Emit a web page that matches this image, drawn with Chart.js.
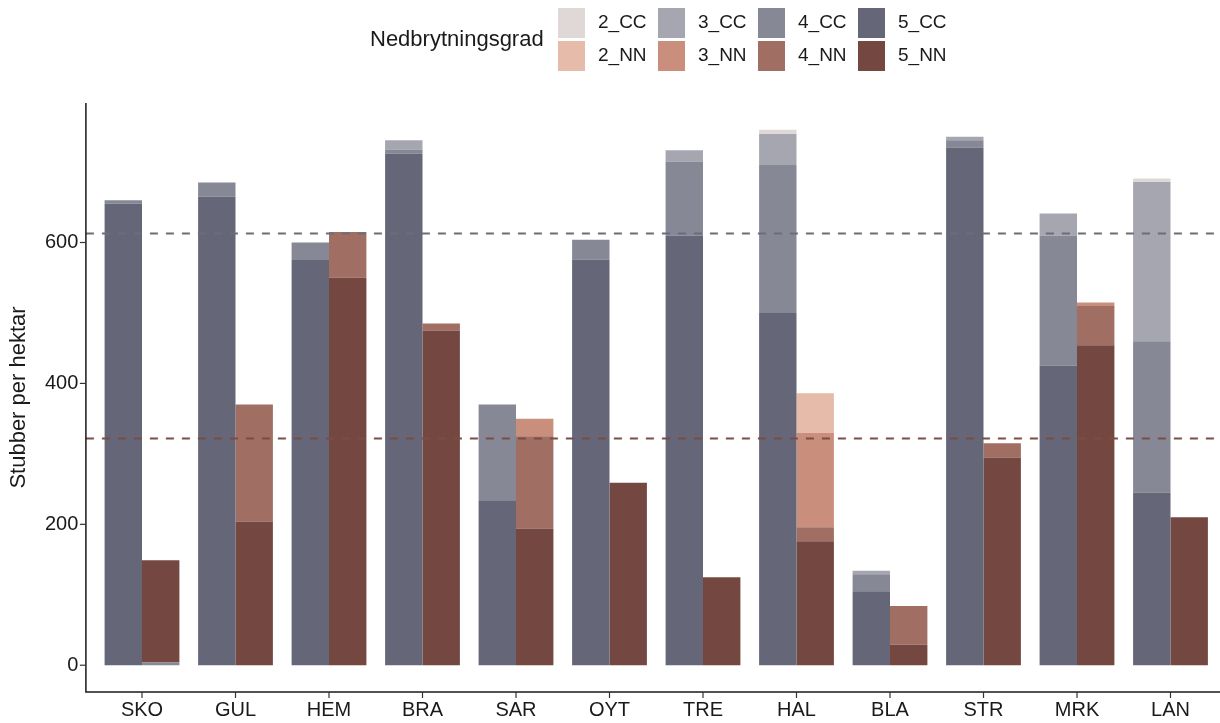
<!DOCTYPE html>
<html>
<head>
<meta charset="utf-8">
<script src="https://cdn.jsdelivr.net/npm/chart.js@4/dist/chart.umd.min.js"></script>
<style>
  html, body { margin: 0; padding: 0; background: #ffffff; overflow: hidden; }
  #wrap { width: 1220px; height: 723px; }
</style>
</head>
<body>
<div id="wrap"><canvas id="chart" width="1220" height="723"></canvas></div>
<script>
// Sites along the x axis
const categories = ['SKO', 'GUL', 'HEM', 'BRA', 'SAR', 'OYT', 'TRE', 'HAL', 'BLA', 'STR', 'MRK', 'LAN'];

// Stumps per hectare by decay class, CC stands
const cc5 = [655, 665, 575, 726, 234, 576, 610, 500, 105, 735, 425, 245];
const cc4 = [5, 20, 25, 6, 136, 28, 105, 210, 24, 10, 185, 215];
const cc3 = [0, 0, 0, 13, 0, 0, 16, 44, 5, 5, 31, 226];
const cc2 = [0, 0, 0, 0, 0, 0, 0, 6, 0, 0, 0, 5];

// Stumps per hectare by decay class, NN stands
const nn5 = [145, 204, 550, 475, 194, 259, 125, 176, 29, 295, 454, 210];
const nn4 = [0, 166, 65, 10, 131, 0, 0, 20, 55, 20, 56, 0];
const nn3 = [0, 0, 0, 0, 25, 0, 0, 134, 0, 0, 5, 0];
const nn2 = [0, 0, 0, 0, 0, 0, 0, 56, 0, 0, 0, 0];
// 4_CC records filed under the NN column at SKO
const cc4InNN = [4, 0, 0, 0, 0, 0, 0, 0, 0, 0, 0, 0];

// Mean stumps per hectare (CC, NN)
const meanLines = [614, 322];

// Y axis tick labels
const yTicks = [0, 200, 400, 600];

const legendTitle = 'Nedbrytningsgrad';
const legendLabels = ['2_CC', '3_CC', '4_CC', '5_CC', '2_NN', '3_NN', '4_NN', '5_NN'];

const colors = {
  '2_CC': '#e0d7d7', '3_CC': '#a6a6b0', '4_CC': '#868896', '5_CC': '#656779',
  '2_NN': '#e7bba9', '3_NN': '#c98f7c', '4_NN': '#a06e62', '5_NN': '#744840'
};
const meanColors = ['#6c6c7a', '#7c4c44'];

const FONT = '"Liberation Sans", Arial, Helvetica, sans-serif';
const TEXT = '#1a1a1a';

function ds(label, values, stack, colorKey) {
  return {
    label: label,
    data: values.map(v => (v > 0 ? v : null)),
    stack: stack,
    backgroundColor: colors[colorKey],
    borderWidth: 0,
    categoryPercentage: 0.8,
    barPercentage: 1.0
  };
}

const datasets = [
  ds('5_CC', cc5, 'CC', '5_CC'),
  ds('4_CC', cc4, 'CC', '4_CC'),
  ds('3_CC', cc3, 'CC', '3_CC'),
  ds('2_CC', cc2, 'CC', '2_CC'),
  ds('4_CC ', cc4InNN, 'NN', '4_CC'),
  ds('5_NN', nn5, 'NN', '5_NN'),
  ds('4_NN', nn4, 'NN', '4_NN'),
  ds('3_NN', nn3, 'NN', '3_NN'),
  ds('2_NN', nn2, 'NN', '2_NN')
];

// Horizontal dashed mean lines, drawn over the bars
const meanLinePlugin = {
  id: 'meanLines',
  afterDatasetsDraw(chart) {
    const ctx = chart.ctx;
    const y = chart.scales.y;
    const pitch = (chart.chartArea.right - chart.chartArea.left) / categories.length;
    const x0 = chart.chartArea.left - 0.1 * pitch;
    ctx.save();
    ctx.lineWidth = 2;
    ctx.setLineDash([8, 8]);
    meanLines.forEach((v, i) => {
      const py = Math.round(y.getPixelForValue(v)) + 0.5;
      ctx.strokeStyle = meanColors[i];
      ctx.beginPath();
      ctx.moveTo(x0, py);
      ctx.lineTo(chart.width, py);
      ctx.stroke();
    });
    ctx.restore();
  }
};

// Axis lines, tick marks and the two-row legend
const framePlugin = {
  id: 'frame',
  afterDraw(chart) {
    const ctx = chart.ctx;
    const area = chart.chartArea;
    const xs = chart.scales.x;
    const ys = chart.scales.y;
    const pitch = (area.right - area.left) / categories.length;
    const axisX = area.left - 0.1 * pitch;
    const axisY = area.bottom;
    ctx.save();
    ctx.strokeStyle = '#1a1a1a';
    ctx.lineWidth = 1.5;
    ctx.beginPath();
    ctx.moveTo(axisX, area.top);
    ctx.lineTo(axisX, axisY);
    ctx.lineTo(chart.width, axisY);
    ctx.stroke();
    ctx.strokeStyle = '#333333';
    ctx.lineWidth = 1.2;
    yTicks.forEach(v => {
      const py = ys.getPixelForValue(v);
      ctx.beginPath();
      ctx.moveTo(axisX - 6, py);
      ctx.lineTo(axisX, py);
      ctx.stroke();
    });
    categories.forEach((c, i) => {
      const px = xs.getPixelForValue(i);
      ctx.beginPath();
      ctx.moveTo(px, axisY);
      ctx.lineTo(px, axisY + 6);
      ctx.stroke();
    });

    // legend
    ctx.fillStyle = TEXT;
    ctx.textBaseline = 'middle';
    ctx.textAlign = 'left';
    ctx.font = '22px ' + FONT;
    ctx.fillText(legendTitle, 370, 40);
    ctx.font = '19px ' + FONT;
    const colX = [558, 658, 758, 858];
    const rowY = [8, 41];
    legendLabels.forEach((lab, i) => {
      const col = i % 4;
      const row = Math.floor(i / 4);
      ctx.fillStyle = colors[lab];
      ctx.fillRect(colX[col], rowY[row], 27, 30);
      ctx.fillStyle = TEXT;
      ctx.fillText(lab, colX[col] + 40, rowY[row] + 15);
    });
    ctx.restore();
  }
};

new Chart(document.getElementById('chart'), {
  type: 'bar',
  data: { labels: categories, datasets: datasets },
  options: {
    responsive: false,
    devicePixelRatio: 1,
    animation: false,
    layout: { padding: { top: 103, right: 2.75, left: 0, bottom: 0 } },
    plugins: {
      legend: { display: false },
      tooltip: { enabled: false }
    },
    scales: {
      x: {
        type: 'category',
        offset: true,
        stacked: true,
        grid: { display: false, drawTicks: false },
        border: { display: false },
        ticks: { font: { size: 20, family: FONT }, color: TEXT, padding: 6, maxRotation: 0, autoSkip: false },
        afterFit: s => { s.height = 31; }
      },
      y: {
        stacked: true,
        min: -38,
        max: 798,
        grid: { display: false, drawTicks: false },
        border: { display: false },
        afterBuildTicks: s => { s.ticks = yTicks.map(v => ({ value: v })); },
        ticks: { font: { size: 20, family: FONT }, color: TEXT, padding: 17 },
        title: {
          display: true,
          text: 'Stubber per hektar',
          font: { size: 22, family: FONT },
          color: TEXT,
          padding: { top: 6, bottom: 0 }
        },
        afterFit: s => { s.width = 95.25; }
      }
    }
  },
  plugins: [meanLinePlugin, framePlugin]
});
</script>
</body>
</html>
